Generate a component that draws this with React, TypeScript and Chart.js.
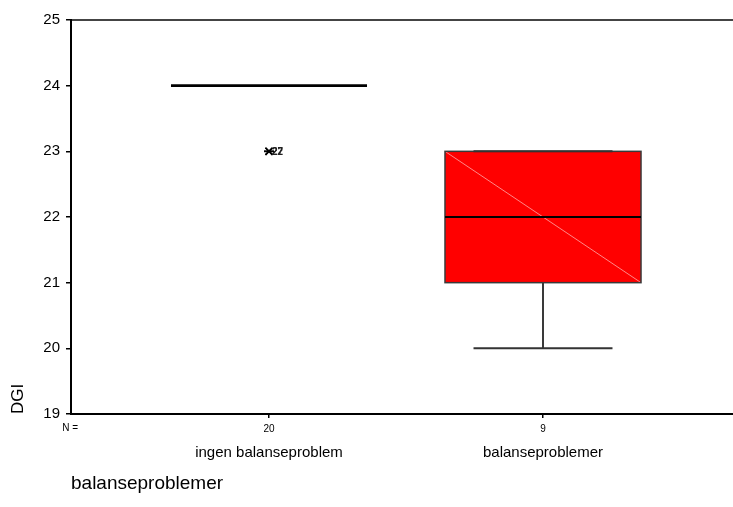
import { useEffect, useRef } from "react";
import { Chart, registerables } from "chart.js";

Chart.register(...registerables);

// ---- data ----
const categories = ["ingen balanseproblem", "balanseproblemer"];
const nCounts = ["20", "9"];
const whiskerLow = [24, 20];
const q1 = [24, 21];
const median = [24, 22];
const q3 = [24, 23];
const whiskerHigh = [24, 23];
const outlierGroup = [0, 0];
const outlierValues = [23, 23];
const outlierIds = ["22", "27"];
const yTicks = [19, 20, 21, 22, 23, 24, 25];
const yMin = 19;
const yMax = 25;
const axisTitleX = "balanseproblemer";
const axisTitleY = "DGI";

// ---- style constants ----
const FONT = "'Liberation Sans', Arial, Helvetica, sans-serif";
const X_MIN = 0.2774;
const X_MAX = 2.6934;
const BOX_HALF = 0.3577;
const CAP_HALF = 0.2536;

const boxPlugin = {
  id: "spssBoxes",
  afterDatasetsDraw(chart: any) {
    const { ctx, scales } = chart;
    const x = scales.x;
    const y = scales.y;
    ctx.save();
    categories.forEach((_, i) => {
      const c = i + 1;
      const xl = x.getPixelForValue(c - BOX_HALF);
      const xr = x.getPixelForValue(c + BOX_HALF);
      const xc = x.getPixelForValue(c);
      const cl = x.getPixelForValue(c - CAP_HALF);
      const cr = x.getPixelForValue(c + CAP_HALF);
      const yLo = y.getPixelForValue(whiskerLow[i]);
      const yQ1 = y.getPixelForValue(q1[i]);
      const yMed = y.getPixelForValue(median[i]);
      const yQ3 = y.getPixelForValue(q3[i]);
      const yHi = y.getPixelForValue(whiskerHigh[i]);
      const collapsed = Math.abs(yQ1 - yQ3) < 0.5;

      if (!collapsed) {
        // whiskers
        ctx.strokeStyle = "#3a3a3a";
        ctx.lineWidth = 2;
        ctx.beginPath();
        ctx.moveTo(xc, yQ1);
        ctx.lineTo(xc, yLo);
        ctx.moveTo(xc, yQ3);
        ctx.lineTo(xc, yHi);
        ctx.stroke();
        // box
        ctx.fillStyle = "#ff0000";
        ctx.fillRect(xl, yQ3, xr - xl, yQ1 - yQ3);
        ctx.strokeStyle = "rgba(255,150,150,0.9)";
        ctx.lineWidth = 1;
        ctx.beginPath();
        ctx.moveTo(xl, yQ3);
        ctx.lineTo(xr, yQ1);
        ctx.stroke();
        ctx.strokeStyle = "#3a3a3a";
        ctx.lineWidth = 1.5;
        ctx.strokeRect(xl, yQ3, xr - xl, yQ1 - yQ3);
        // caps
        ctx.strokeStyle = "#333333";
        ctx.lineWidth = 2;
        ctx.beginPath();
        ctx.moveTo(cl, yLo);
        ctx.lineTo(cr, yLo);
        ctx.moveTo(cl, yHi);
        ctx.lineTo(cr, yHi);
        ctx.stroke();
      }
      // median
      ctx.strokeStyle = "#000";
      ctx.lineWidth = collapsed ? 2.7 : 2;
      ctx.beginPath();
      ctx.moveTo(xl, yMed);
      ctx.lineTo(xr, yMed);
      ctx.stroke();
    });

    // outlier labels
    ctx.fillStyle = "#222";
    ctx.font = `bold 10px ${FONT}`;
    ctx.textAlign = "left";
    ctx.textBaseline = "middle";
    outlierValues.forEach((v, k) => {
      const px = x.getPixelForValue(outlierGroup[k] + 1);
      const py = y.getPixelForValue(v);
      ctx.fillText(outlierIds[k], px + 3, py + 0.5);
    });
    ctx.restore();
  },
  afterDraw(chart: any) {
    const { ctx, scales } = chart;
    const xs = scales.x;
    ctx.save();
    ctx.fillStyle = "#000";
    ctx.font = `10px ${FONT}`;
    ctx.textAlign = "right";
    ctx.textBaseline = "top";
    ctx.fillText("N =", xs.left + 7, xs.top + 9);
    ctx.restore();
  },
};

export default function App() {
  const canvasRef = useRef<HTMLCanvasElement | null>(null);

  useEffect(() => {
    const canvas = canvasRef.current;
    if (!canvas) return;
    const outlierData = outlierValues.map((v, k) => ({ x: outlierGroup[k] + 1, y: v }));
    const catTicks = (s: any) => {
      s.ticks = categories.map((_, i) => ({ value: i + 1 }));
    };
    const chart = new Chart(canvas, {
      type: "scatter",
      data: {
        datasets: [
          {
            data: outlierData,
            pointStyle: "crossRot",
            radius: 5,
            borderColor: "#000",
            backgroundColor: "#000",
            borderWidth: 1.6,
          },
          {
            data: outlierData,
            pointStyle: "line",
            radius: 5,
            borderColor: "#000",
            backgroundColor: "#000",
            borderWidth: 1.6,
          },
        ],
      },
      options: {
        animation: false,
        responsive: false,
        devicePixelRatio: 1,
        layout: { autoPadding: false, padding: { top: 20, right: 0, bottom: 0, left: 0 } },
        plugins: {
          legend: { display: false },
          tooltip: { enabled: false },
        },
        scales: {
          x: {
            type: "linear",
            position: "bottom",
            min: X_MIN,
            max: X_MAX,
            weight: 0,
            afterBuildTicks: catTicks,
            ticks: {
              callback: (v: any) => nCounts[Number(v) - 1] ?? "",
              font: { family: FONT, size: 10 },
              color: "#000",
              padding: 5,
              maxRotation: 0,
              autoSkip: false,
            },
            grid: { drawOnChartArea: false, drawTicks: true, tickLength: 4, color: "#000", lineWidth: 1.5 },
            border: { color: "#000", width: 2 },
            afterFit: (s: any) => {
              s.height = 22;
            },
          },
          x2: {
            type: "linear",
            position: "bottom",
            min: X_MIN,
            max: X_MAX,
            weight: 1,
            afterBuildTicks: catTicks,
            ticks: {
              callback: (v: any) => categories[Number(v) - 1] ?? "",
              font: { family: FONT, size: 15 },
              color: "#000",
              padding: 8,
              maxRotation: 0,
              autoSkip: false,
            },
            grid: { display: false, drawTicks: false },
            border: { display: false },
            title: {
              display: true,
              text: axisTitleX,
              align: "start",
              color: "#000",
              font: { family: FONT, size: 19 },
              padding: { top: 0, bottom: 12 },
            },
            afterFit: (s: any) => {
              s.height = 71;
            },
          },
          xTop: {
            type: "linear",
            position: "top",
            min: X_MIN,
            max: X_MAX,
            ticks: { display: false },
            grid: { display: true, drawOnChartArea: false, drawTicks: false },
            border: { color: "#444", width: 2 },
            afterFit: (s: any) => {
              s.height = 0;
            },
          },
          y: {
            type: "linear",
            min: yMin,
            max: yMax,
            afterBuildTicks: (s: any) => {
              s.ticks = yTicks.map((v) => ({ value: v }));
            },
            ticks: {
              font: { family: FONT, size: 15 },
              color: "#000",
              padding: 6,
            },
            grid: { drawOnChartArea: false, drawTicks: true, tickLength: 5, color: "#000", lineWidth: 1.5 },
            border: { color: "#000", width: 2 },
            title: {
              display: true,
              text: axisTitleY,
              align: "start",
              color: "#000",
              font: { family: FONT, size: 17 },
              padding: { top: 8, bottom: 0 },
            },
            afterFit: (s: any) => {
              s.width = 71;
            },
          },
        },
      } as any,
      plugins: [boxPlugin],
    });
    return () => chart.destroy();
  }, []);

  return (
    <canvas
      ref={canvasRef}
      width={733}
      height={507}
      style={{ position: "absolute", left: 0, top: 0, display: "block" }}
    />
  );
}
